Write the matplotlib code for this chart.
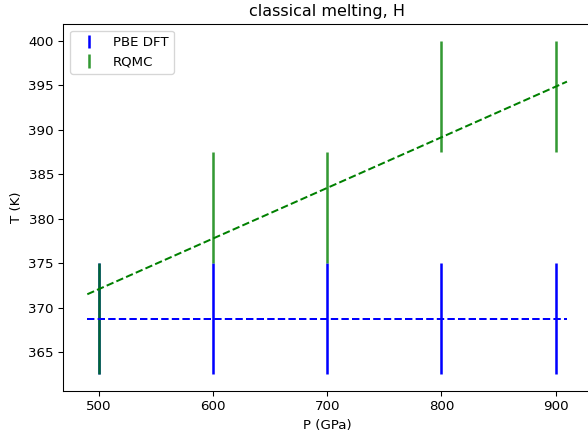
import numpy as np
import matplotlib.pyplot as plt

# pressures (GPa)
pressure = [500, 600, 700, 800, 900]

# PBE DFT melting temperature and half-width of the bracket
pbe_T = [368.75, 368.75, 368.75, 368.75, 368.75]
pbe_err = [6.25, 6.25, 6.25, 6.25, 6.25]

# RQMC melting temperature and half-width
rqmc_T = [368.75, 381.25, 381.25, 393.75, 393.75]
rqmc_err = [6.25, 6.25, 6.25, 6.25, 6.25]

# fitted trend lines (end points)
fit_P = [490, 910]
pbe_fit = [368.75, 368.75]
rqmc_fit = [371.5, 395.4]

# 6.125 x 4.5 in at 96 dpi -> 588 x 432 px
fig, ax = plt.subplots(figsize=(6.125, 4.5), dpi=96)

ax.errorbar(pressure, pbe_T, yerr=pbe_err, fmt='none', ecolor='blue', elinewidth=1.9, label='PBE DFT')
ax.errorbar(pressure, rqmc_T, yerr=rqmc_err, fmt='none', ecolor='green', elinewidth=1.9, alpha=0.8, label='RQMC')
ax.plot(fit_P, pbe_fit, '--', color='blue')
ax.plot(fit_P, rqmc_fit, '--', color='green')

ax.set_title('classical melting, H')
ax.set_xlabel('P (GPa)')
ax.set_ylabel('T (K)')
ax.legend(loc='upper left')

# the original figure is cropped a bit on the right
plt.subplots_adjust(left=0.1077, right=1.005, top=0.9444, bottom=0.0949)
plt.savefig('out.png', dpi=96)
